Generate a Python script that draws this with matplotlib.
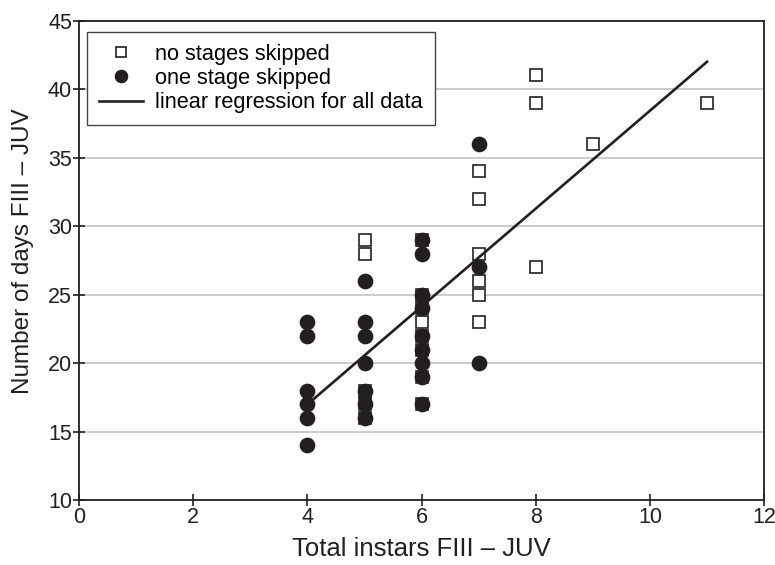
import numpy as np
import matplotlib
matplotlib.use("Agg")
import matplotlib.pyplot as plt

plt.rcParams['font.family'] = ['Liberation Sans', 'DejaVu Sans']

# no stages skipped (open squares)
sq_x = [5, 5, 5, 5, 5,
        6, 6, 6, 6, 6, 6, 6, 6,
        7, 7, 7, 7, 7, 7,
        8, 8, 8, 9, 11]
sq_y = [29, 28, 18, 17, 16,
        29, 25, 24, 23, 22, 21, 19, 17,
        34, 32, 28, 26, 25, 23,
        41, 39, 27, 36, 39]

# one stage skipped (filled circles)
ci_x = [4, 4, 4, 4, 4, 4,
        5, 5, 5, 5, 5, 5, 5,
        6, 6, 6, 6, 6, 6, 6, 6, 6,
        7, 7, 7]
ci_y = [23, 22, 18, 17, 16, 14,
        26, 23, 22, 20, 18, 17, 16,
        29, 28, 25, 24, 22, 21, 20, 19, 17,
        36, 27, 20]

# regression line for all data (end points)
reg_x = [4, 11]
reg_y = [17.0, 42.0]

fig = plt.figure(figsize=(7.75, 5.65), dpi=100)
ax = fig.add_axes([0.102, 0.1145, 0.884, 0.849])

ax.set_xlim(0, 12)
ax.set_ylim(10, 45)
ax.set_xticks(np.arange(0, 13, 2))
ax.set_yticks(np.arange(10, 46, 5))
for v in range(15, 45, 5):
    ax.axhline(v, color='#c8c8c8', lw=1.3, zorder=0)

ax.plot(sq_x, sq_y, 's', ms=8, mfc='white', mec='#222222', mew=1.2,
        ls='none', label='no stages skipped', zorder=2)
ax.plot(ci_x, ci_y, 'o', ms=10.3, mfc='#231f20', mec='#231f20',
        ls='none', label='one stage skipped', zorder=3)
ax.plot(reg_x, reg_y, '-', color='#231f20', lw=1.9,
        label='linear regression for all data', zorder=4)

for s in ax.spines.values():
    s.set_linewidth(1.3)
    s.set_color('#231f20')
ax.tick_params(direction='inout', length=8, width=1.2, labelsize=15.5,
               colors='#231f20', pad=1)

ax.set_xlabel('Total instars FIII – JUV', fontsize=18.5, color='#231f20', labelpad=6)
ax.set_ylabel('Number of days FIII – JUV', fontsize=17.5, color='#231f20')
ax.yaxis.set_label_coords(-0.066, 0.52)

leg = ax.legend(loc='upper left', bbox_to_anchor=(0.012, 0.977), borderaxespad=0,
                fontsize=15.7, frameon=True, fancybox=False, framealpha=1,
                edgecolor='#444444', handlelength=2.0, labelspacing=0.15,
                borderpad=0.55, handletextpad=0.55, markerscale=0.85)
leg.get_frame().set_linewidth(1.0)

fig.savefig('out.png', dpi=100)
